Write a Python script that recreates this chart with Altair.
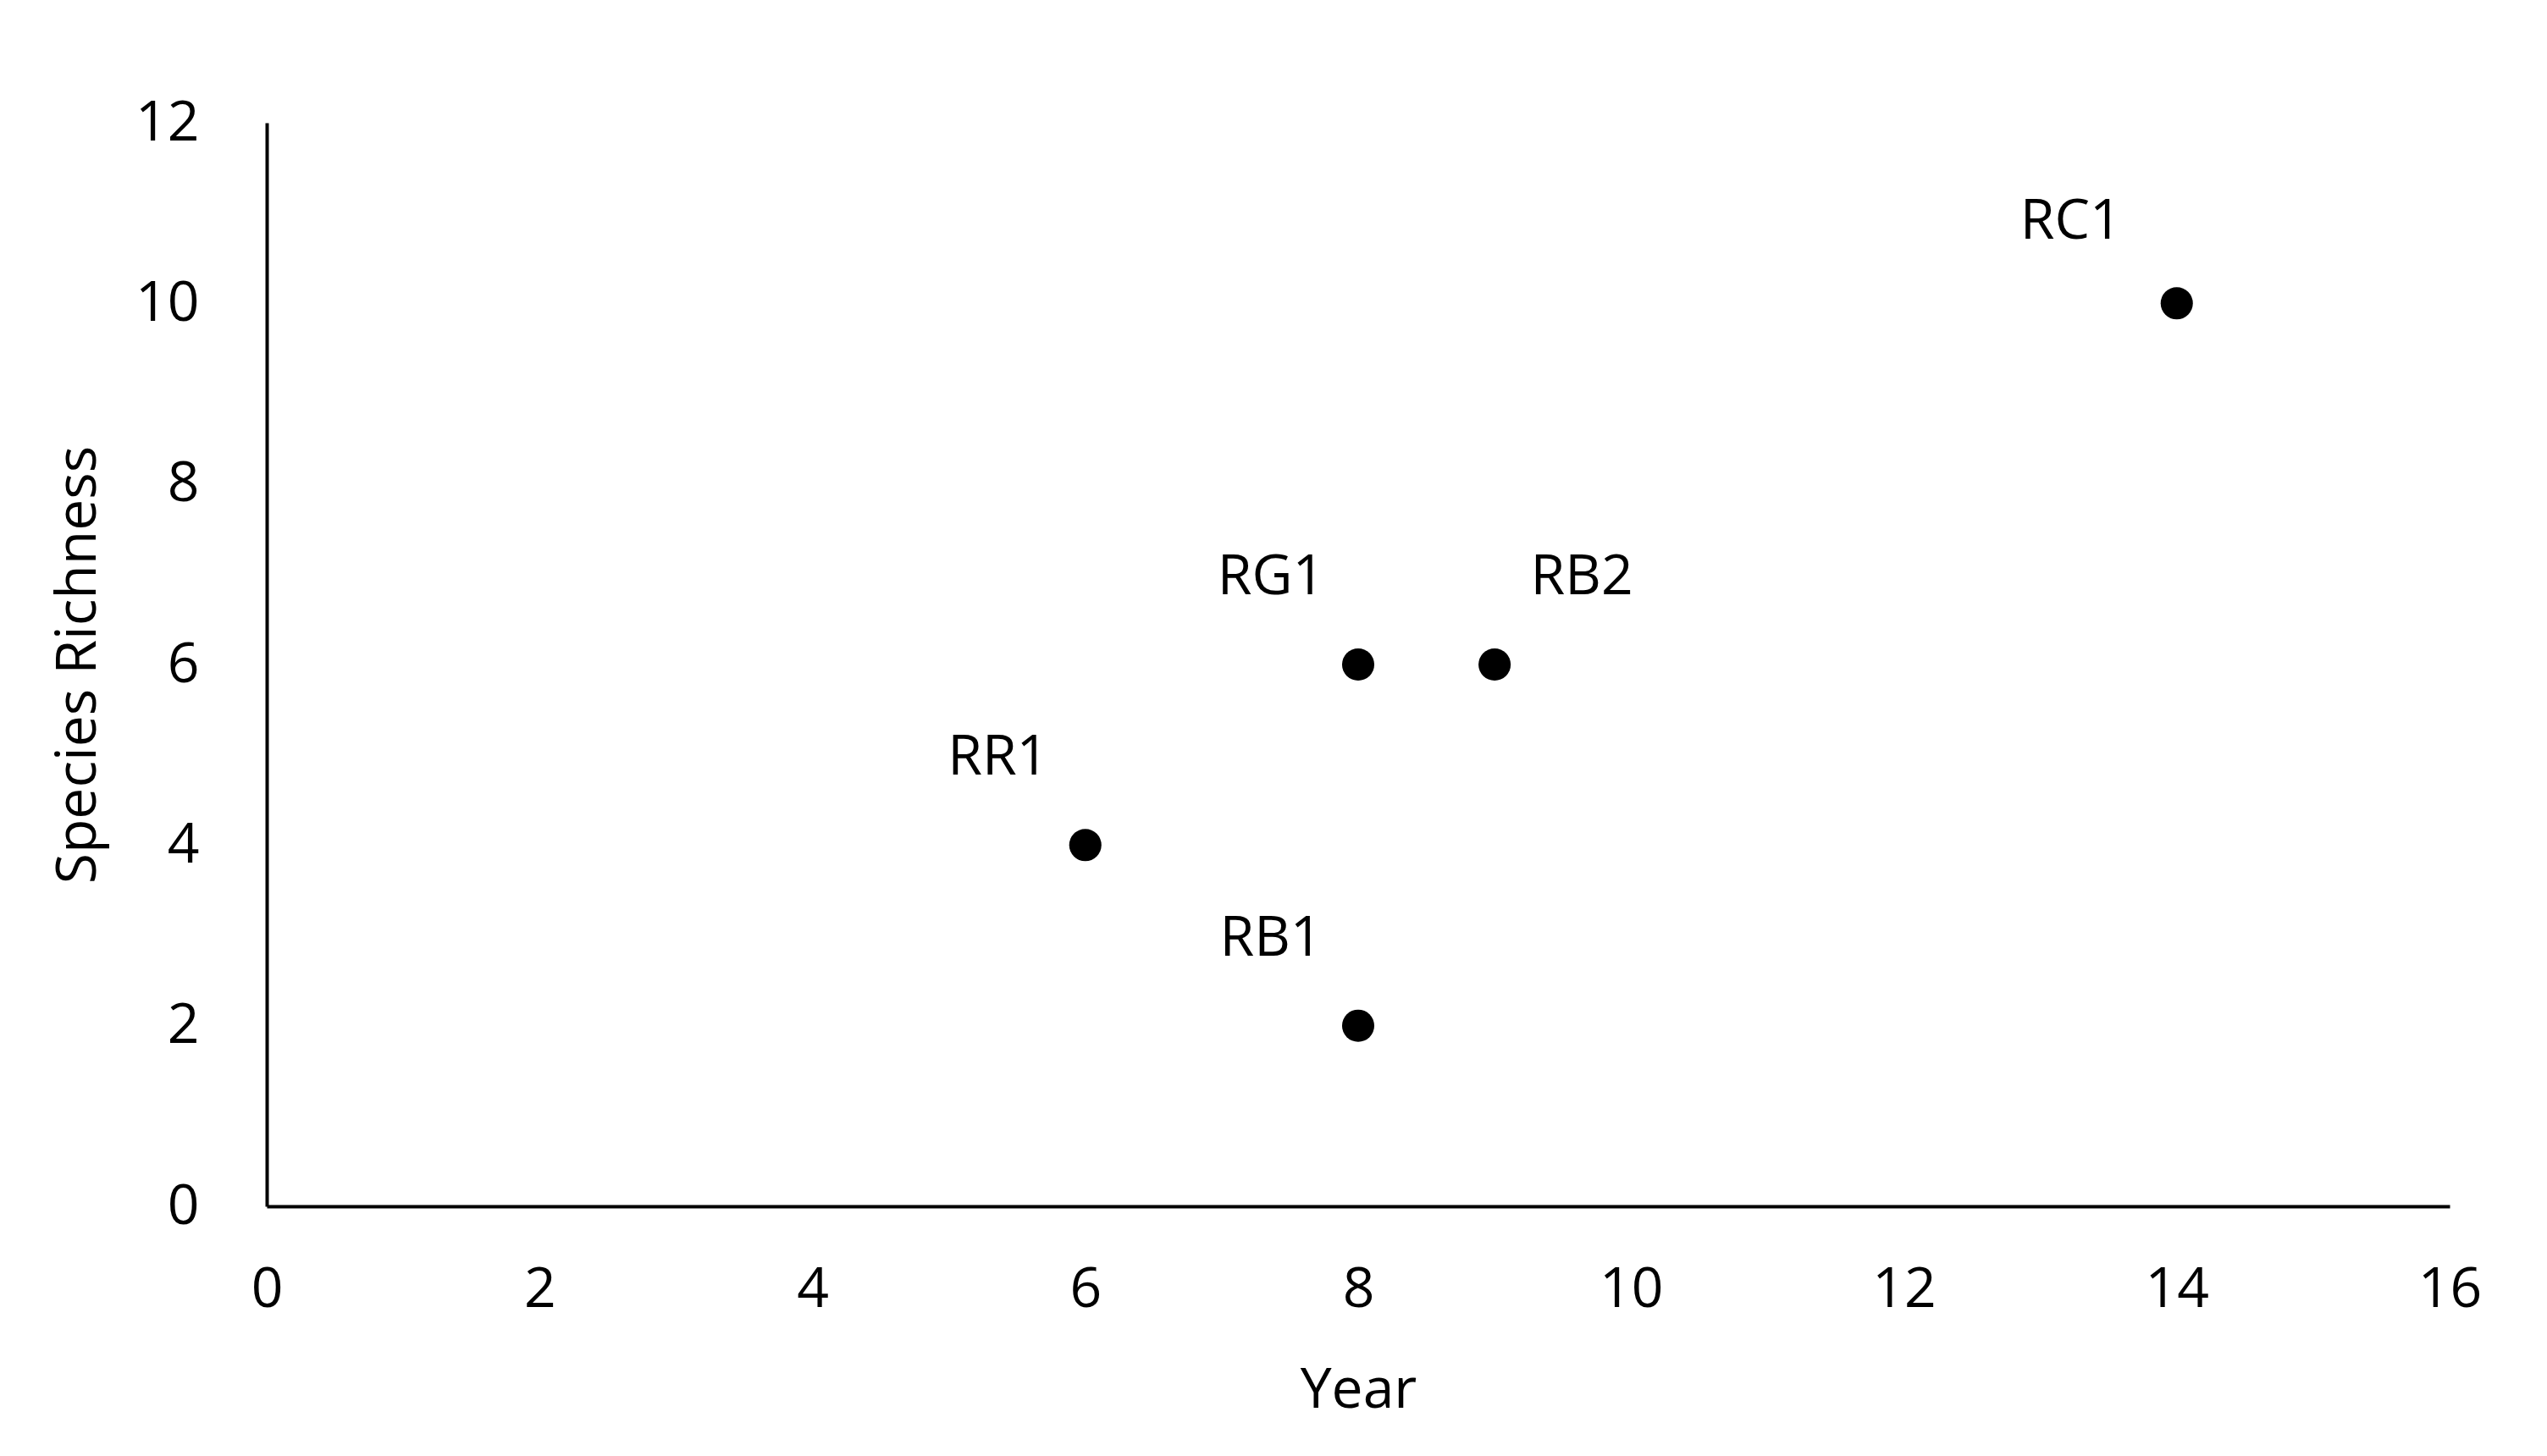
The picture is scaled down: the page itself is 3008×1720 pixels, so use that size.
import altair as alt
import pandas as pd

sites = ["RR1", "RG1", "RB1", "RB2", "RC1"]
years = [6, 8, 8, 9, 14]
richness = [4, 6, 2, 6, 10]

df = pd.DataFrame({"site": sites, "year": years, "richness": richness})

FONT = "Open Sans"
FS = 66
W, H = 2578, 1280

x = alt.X("year:Q", scale=alt.Scale(domain=[0, 16], nice=False, zero=True),
          axis=alt.Axis(values=list(range(0, 17, 2)), title="Year", grid=False,
                        ticks=False, domainColor="black", domainWidth=4,
                        labelFont=FONT, labelFontSize=FS, labelColor="black",
                        labelPadding=66, labelFlush=False,
                        titleFont=FONT, titleFontSize=FS, titleFontWeight="normal",
                        titleColor="black", titleX=W / 2, titleY=217,
                        titleBaseline="middle"))
y = alt.Y("richness:Q", scale=alt.Scale(domain=[0, 12], nice=False),
          axis=alt.Axis(values=list(range(0, 13, 2)), title="Species Richness", grid=False,
                        ticks=False, domainColor="black", domainWidth=4,
                        labelFont=FONT, labelFontSize=FS, labelColor="black",
                        labelPadding=80, labelFlush=False,
                        titleFont=FONT, titleFontSize=FS, titleFontWeight="normal",
                        titleColor="black", titleX=-223, titleY=H / 2,
                        titleBaseline="middle", titleAngle=270))

base = alt.Chart(df)
points = base.mark_circle(size=1450, color="black", opacity=1).encode(x=x, y=y)

txt = dict(font=FONT, fontSize=FS, color="black", align="center", baseline="middle")
left = base.transform_filter(
    alt.FieldOneOfPredicate(field="site", oneOf=["RR1", "RG1", "RB1"])
).mark_text(dx=-103, dy=-103, **txt).encode(x=x, y=y, text="site:N")
right = base.transform_filter(
    alt.FieldEqualPredicate(field="site", equal="RB2")
).mark_text(dx=103, dy=-103, **txt).encode(x=x, y=y, text="site:N")
rc = base.transform_filter(
    alt.FieldEqualPredicate(field="site", equal="RC1")
).mark_text(dx=-125, dy=-96, **txt).encode(x=x, y=y, text="site:N")

chart = alt.layer(points, left, right, rc).properties(
    width=W, height=H,
    autosize=alt.AutoSizeParams(type="none"),
    padding={"left": 307, "top": 137, "right": 100, "bottom": 270},
).configure(background="white").configure_view(stroke=None)

chart.save("out.html", embed_options={"renderer": "svg", "actions": False})
